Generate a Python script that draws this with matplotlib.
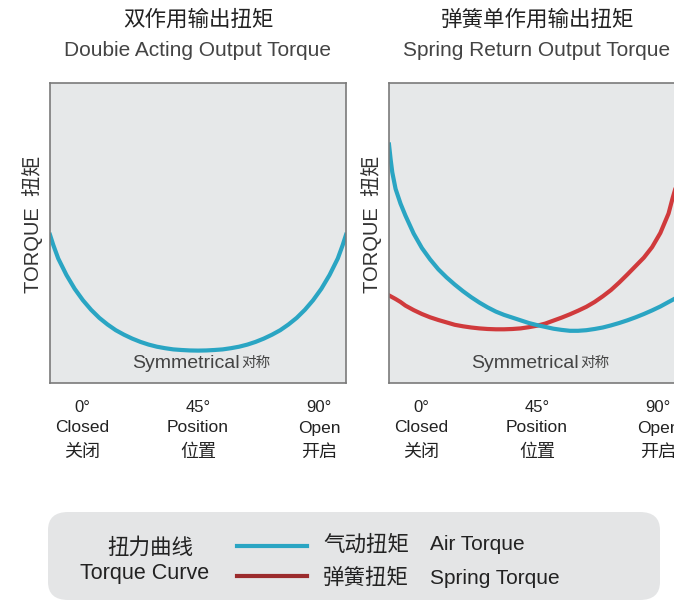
import matplotlib
matplotlib.use("Agg")
import matplotlib.pyplot as plt
from matplotlib.patches import FancyBboxPatch
from matplotlib.lines import Line2D

plt.rcParams['font.family'] = ['Liberation Sans', 'Noto Sans CJK SC', 'DejaVu Sans']

# 双作用: 角度 (度) と気動トルク
angle_double = [0, 1, 2.5, 5, 7.5, 10, 12.5, 15, 17.5, 20, 22.5, 25, 27.5, 30, 32.5, 35,
                37.5, 40, 42.5, 45, 47.5, 50, 52.5, 55, 57.5, 60, 62.5, 65, 67.5, 70,
                72.5, 75, 77.5, 80, 82.5, 85, 87.5, 89, 90]
air_double = [49.4, 46, 41.5, 36.0, 31.4, 27.6, 24.4, 21.7, 19.5, 17.6, 16.1, 14.8, 13.7,
              12.8, 12.1, 11.6, 11.2, 11.0, 10.85, 10.8, 10.85, 11.0, 11.2, 11.6, 12.1,
              12.8, 13.7, 14.8, 16.1, 17.6, 19.5, 21.7, 24.4, 27.6, 31.4, 36.0, 41.5, 46, 49.4]

# 弹簧单作用
angle_spring = [0, 0.5, 1, 2, 3.5, 5, 7.5, 10, 12.5, 15, 17.5, 20, 22.5, 25, 27.5, 30, 32.5,
                35, 37.5, 40, 42.5, 45, 47.5, 50, 52.5, 55, 57.5, 60, 62.5, 65, 67.5, 70,
                72.5, 75, 77.5, 80, 82.5, 85, 86.2, 87, 88, 89, 90]
air_spring = [79.5, 74.5, 70.2, 64.7, 59.8, 55.8, 49.8, 45.0, 41.2, 37.9, 35.2, 32.8, 30.6,
              28.6, 26.8, 25.2, 23.8, 22.7, 21.8, 20.9, 20.0, 19.3, 18.7, 18.1, 17.7, 17.4,
              17.4, 17.6, 18.0, 18.5, 19.2, 20.0, 20.9, 21.9, 23.0, 24.2, 25.5, 27.0, 27.7,
              28.2, 28.9, 29.6, 30.3]
spring_torque = [29.2, 28.9, 28.6, 28.0, 27.0, 25.8, 24.3, 23.0, 21.9, 21.0, 20.2, 19.4,
                 18.9, 18.5, 18.2, 18.0, 17.9, 17.9, 18.0, 18.2, 18.6, 19.1, 19.8, 20.8,
                 21.8, 22.9, 24.1, 25.4, 27.0, 28.9, 31.0, 33.5, 36.2, 39.0, 41.8, 45.3,
                 50.0, 56.5, 61.5, 64.5, 68.8, 73.8, 79.5]

tick_deg = ["0°", "45°", "90°"]
tick_en = ["Closed", "Position", "Open"]
tick_cn = ["关闭", "位置", "开启"]

BLUE = "#2aa5c3"
RED = "#d03a3c"
DARK_RED = "#9b2b2d"
W, H = 674, 603


def fx(px):
    return px / W


def fy(py):
    return 1 - py / H


fig = plt.figure(figsize=(W / 100, H / 100), dpi=100)

panels = [
    (50, "双作用输出扭矩", "Doubie Acting Output Torque"),
    (389, "弹簧单作用输出扭矩", "Spring Return Output Torque"),
]
axes = []
for left, t_cn, t_en in panels:
    ax = fig.add_axes([fx(left), fy(383), 296 / W, 300 / H])
    ax.set_facecolor("#e6e8e9")
    ax.set_xlim(0, 90)
    ax.set_ylim(0, 100)
    ax.set_xticks([])
    ax.set_yticks([])
    for s in ax.spines.values():
        s.set_color("#7a7a7a")
        s.set_linewidth(1.2)
    cx = left + 148
    fig.text(fx(cx), fy(20), t_cn, ha="center", va="center", fontsize=15.5, color="#222222")
    fig.text(fx(cx), fy(50), t_en, ha="center", va="center", fontsize=15, color="#444444")
    fig.text(fx(left - 17), fy(224), "TORQUE  扭矩", rotation=90, ha="center", va="center",
             fontsize=14.5, color="#333333")
    ax.text(0.642, 0.035, "Symmetrical", transform=ax.transAxes, ha="right", va="bottom",
            fontsize=14, color="#444444")
    ax.text(0.645, 0.045, "对称", transform=ax.transAxes, ha="left", va="bottom",
            fontsize=10.5, color="#444444")
    for i, frac in enumerate([0.11, 0.5, 0.91]):
        x = left + frac * 296
        fig.text(fx(x), fy(408), tick_deg[i], ha="center", va="center", fontsize=12, color="#222222")
        fig.text(fx(x), fy(428), tick_en[i], ha="center", va="center", fontsize=12.5, color="#222222")
        fig.text(fx(x), fy(452), tick_cn[i], ha="center", va="center", fontsize=13, color="#222222")
    axes.append(ax)

axes[0].plot(angle_double, air_double, color=BLUE, lw=3, solid_joinstyle="round")
axes[1].plot(angle_spring, spring_torque, color=RED, lw=3, solid_joinstyle="round")
axes[1].plot(angle_spring, air_spring, color=BLUE, lw=3, solid_joinstyle="round")

# 图例框
box = FancyBboxPatch((fx(48), fy(600)), fx(612), 88 / H,
                     boxstyle="round,pad=0,rounding_size=0.03",
                     transform=fig.transFigure, facecolor="#e4e5e6", edgecolor="none", zorder=0)
fig.patches.append(box)

fig.text(fx(150), fy(548), "扭力曲线", ha="center", va="center", fontsize=15.5, color="#222222")
fig.text(fx(145), fy(573), "Torque Curve", ha="center", va="center", fontsize=15.5, color="#222222")
fig.lines.append(Line2D([fx(237), fx(307)], [fy(546), fy(546)], transform=fig.transFigure,
                        color=BLUE, lw=3))
fig.lines.append(Line2D([fx(237), fx(307)], [fy(576), fy(576)], transform=fig.transFigure,
                        color=DARK_RED, lw=3))
fig.text(fx(323), fy(545), "气动扭矩", ha="left", va="center", fontsize=15.5, color="#222222")
fig.text(fx(430), fy(545), "Air Torque", ha="left", va="center", fontsize=15, color="#222222")
fig.text(fx(323), fy(578), "弹簧扭矩", ha="left", va="center", fontsize=15.5, color="#222222")
fig.text(fx(430), fy(578), "Spring Torque", ha="left", va="center", fontsize=15, color="#222222")

fig.savefig("out.png", dpi=100, facecolor="white")
